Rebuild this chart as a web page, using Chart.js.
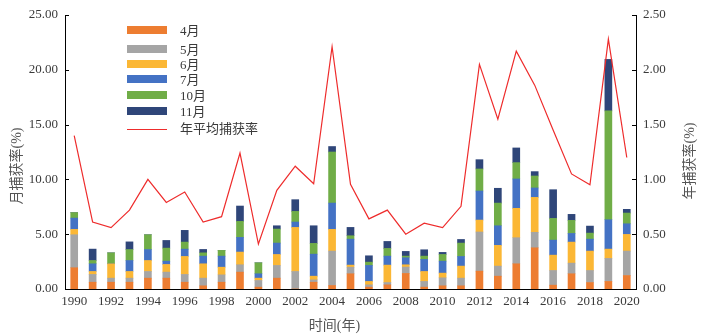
<!DOCTYPE html>
<html>
<head>
<meta charset="utf-8">
<script src="https://cdn.jsdelivr.net/npm/chart.js@4.4.1/dist/chart.umd.min.js"></script>
<style>
  html, body { margin: 0; padding: 0; background: #ffffff; }
  #wrap { width: 706px; height: 335px; }
</style>
</head>
<body>
<div id="wrap"><canvas id="c" width="706" height="335"></canvas></div>
<script>
const years = ['1990','1991','1992','1993','1994','1995','1996','1997','1998','1999','2000','2001','2002','2003','2004','2005','2006','2007','2008','2009','2010','2011','2012','2013','2014','2015','2016','2017','2018','2019','2020'];

const apr = [1.94,0.62,0.62,0.62,0.99,0.99,0.62,0.29,0.62,1.54,0.17,0.99,0.00,0.62,0.32,1.39,0.17,0.38,1.42,0.17,0.29,0.29,1.63,1.17,2.30,3.76,0.35,1.39,0.59,0.69,1.23];
const may = [3.01,0.71,0.37,0.37,0.61,0.55,0.71,0.70,0.67,0.67,0.61,1.16,1.60,0.21,3.14,0.60,0.21,0.21,0.58,0.52,0.73,0.70,3.57,0.92,2.38,1.41,1.34,0.97,1.10,2.10,2.23];
const jun = [0.49,0.27,1.31,0.61,1.00,0.70,1.64,1.31,0.70,1.16,0.21,1.00,4.02,0.34,1.98,0.19,0.31,1.59,0.21,0.91,0.43,1.10,1.09,1.89,2.68,3.19,1.40,1.92,1.77,0.85,1.52];
const jul = [1.03,0.70,0.00,1.00,1.00,0.30,0.67,0.70,1.01,1.34,0.40,1.04,0.49,2.01,2.40,2.37,1.46,0.82,0.64,1.10,1.09,0.88,2.65,1.79,2.68,0.86,1.37,0.79,1.09,2.68,0.97];
const oct = [0.50,0.30,1.00,1.00,1.35,1.19,0.64,0.30,0.52,1.46,1.00,1.28,0.97,0.98,4.66,0.31,0.30,0.70,0.15,0.30,0.61,1.22,2.01,2.07,1.49,1.09,1.98,1.19,0.55,9.93,0.98];
const nov = [0.00,1.04,0.00,0.70,0.00,0.70,1.07,0.31,0.00,1.40,0.00,0.30,1.07,1.61,0.50,0.76,0.58,0.64,0.43,0.58,0.19,0.33,0.85,1.35,1.34,0.40,2.62,0.55,0.64,4.70,0.34];
const annual = [1.40,0.61,0.56,0.72,1.00,0.79,0.885,0.61,0.66,1.24,0.41,0.90,1.12,0.96,2.21,0.955,0.64,0.72,0.50,0.60,0.56,0.754,2.05,1.55,2.17,1.86,1.45,1.05,0.95,2.28,1.20];

const seriesNames = ['4月','5月','6月','7月','10月','11月'];
const lineName = '年平均捕获率';
const leftTicks = [0, 5, 10, 15, 20, 25];
const rightTicks = [0, 0.5, 1, 1.5, 2, 2.5];
const leftTitle = '月捕获率(%)';
const rightTitle = '年捕获率(%)';
const xTitle = '时间(年)';

const colors = ['#ED7D31','#A5A5A5','#FBB735','#4472C4','#70AD47','#2F4679'];
const monthly = [apr, may, jun, jul, oct, nov];

const SERIF = "'Liberation Serif', 'Noto Sans CJK SC', serif";
const TEXT = '#3a3a3a';

const datasets = monthly.map((d, i) => ({
  type: 'bar',
  label: seriesNames[i],
  data: d,
  backgroundColor: colors[i],
  borderWidth: 0,
  barThickness: 7,
  stack: 'm',
  yAxisID: 'y',
  order: 2
}));
datasets.push({
  type: 'line',
  label: lineName,
  data: annual,
  borderColor: '#EE2C2C',
  borderWidth: 1.2,
  pointRadius: 0,
  tension: 0,
  fill: false,
  yAxisID: 'y1',
  order: 0
});

const decor = {
  id: 'decor',
  afterDraw(chart) {
    const ctx = chart.ctx;
    const ya = chart.scales.y, yb = chart.scales.y1, xs = chart.scales.x;
    ctx.save();
    ctx.strokeStyle = '#000';
    ctx.lineWidth = 1;
    // inward ticks
    ya.ticks.forEach(t => {
      const py = Math.round(ya.getPixelForValue(t.value)) + 0.5;
      ctx.beginPath(); ctx.moveTo(ya.right, py); ctx.lineTo(ya.right + 4, py); ctx.stroke();
    });
    yb.ticks.forEach(t => {
      const py = Math.round(yb.getPixelForValue(t.value)) + 0.5;
      ctx.beginPath(); ctx.moveTo(yb.left, py); ctx.lineTo(yb.left - 4, py); ctx.stroke();
    });
    // axis titles
    ctx.fillStyle = '#555';
    ctx.font = "14px " + SERIF;
    ctx.textAlign = 'center';
    ctx.textBaseline = 'middle';
    const midY = (chart.chartArea.top + chart.chartArea.bottom) / 2 + 14;
    ctx.save(); ctx.translate(17, midY); ctx.rotate(-Math.PI / 2); ctx.fillText(leftTitle, 0, 0); ctx.restore();
    ctx.save(); ctx.translate(690, midY - 5); ctx.rotate(-Math.PI / 2); ctx.fillText(rightTitle, 0, 0); ctx.restore();
    ctx.fillText(xTitle, (chart.chartArea.left + chart.chartArea.right) / 2 - 16, 326);
    // legend
    const lx = 127, tx = 180;
    const rows = [30, 49, 64, 79, 95, 111];
    ctx.textAlign = 'left';
    ctx.font = "13px " + SERIF;
    chart.data.datasets.forEach((ds, i) => {
      if (i < rows.length) {
        ctx.fillStyle = ds.backgroundColor;
        ctx.fillRect(lx, rows[i] - 4, 40, 8);
        ctx.fillStyle = TEXT;
        ctx.fillText(ds.label, tx, rows[i] + 2);
      } else {
        ctx.strokeStyle = ds.borderColor;
        ctx.lineWidth = 1.2;
        ctx.beginPath(); ctx.moveTo(lx, 129.5); ctx.lineTo(lx + 40, 129.5); ctx.stroke();
        ctx.fillStyle = TEXT;
        ctx.fillText(ds.label, tx, 130);
      }
    });
    ctx.restore();
  }
};

new Chart(document.getElementById('c'), {
  data: { labels: years, datasets },
  options: {
    responsive: false,
    animation: false,
    devicePixelRatio: 1,
    layout: { padding: { top: 15, left: 0, right: 0, bottom: 0 } },
    plugins: { legend: { display: false }, tooltip: { enabled: false } },
    scales: {
      x: {
        stacked: true,
        offset: true,
        grid: { display: false, drawTicks: false },
        border: { display: true, color: '#000', width: 1 },
        ticks: {
          autoSkip: false, maxRotation: 0, minRotation: 0, padding: 5,
          color: TEXT, font: { family: SERIF, size: 13 },
          callback: function(v, i) { return i % 2 === 0 ? this.getLabelForValue(v) : ''; }
        },
        afterFit: s => { s.height = 46; }
      },
      y: {
        type: 'linear', position: 'left', stacked: true,
        min: 0, max: 25,
        afterBuildTicks: s => { s.ticks = leftTicks.map(v => ({ value: v })); },
        grid: { display: false, drawTicks: false },
        border: { display: true, color: '#000', width: 1 },
        ticks: { padding: 7, color: TEXT, font: { family: SERIF, size: 13 }, callback: v => Number(v).toFixed(2) },
        afterFit: s => { s.width = 65; }
      },
      y1: {
        type: 'linear', position: 'right',
        min: 0, max: 2.5,
        afterBuildTicks: s => { s.ticks = rightTicks.map(v => ({ value: v })); },
        grid: { display: false, drawTicks: false },
        border: { display: true, color: '#000', width: 1 },
        ticks: { padding: 7, color: TEXT, font: { family: SERIF, size: 13 }, callback: v => Number(v).toFixed(2) },
        afterFit: s => { s.width = 70; }
      }
    }
  },
  plugins: [decor]
});
</script>
</body>
</html>
